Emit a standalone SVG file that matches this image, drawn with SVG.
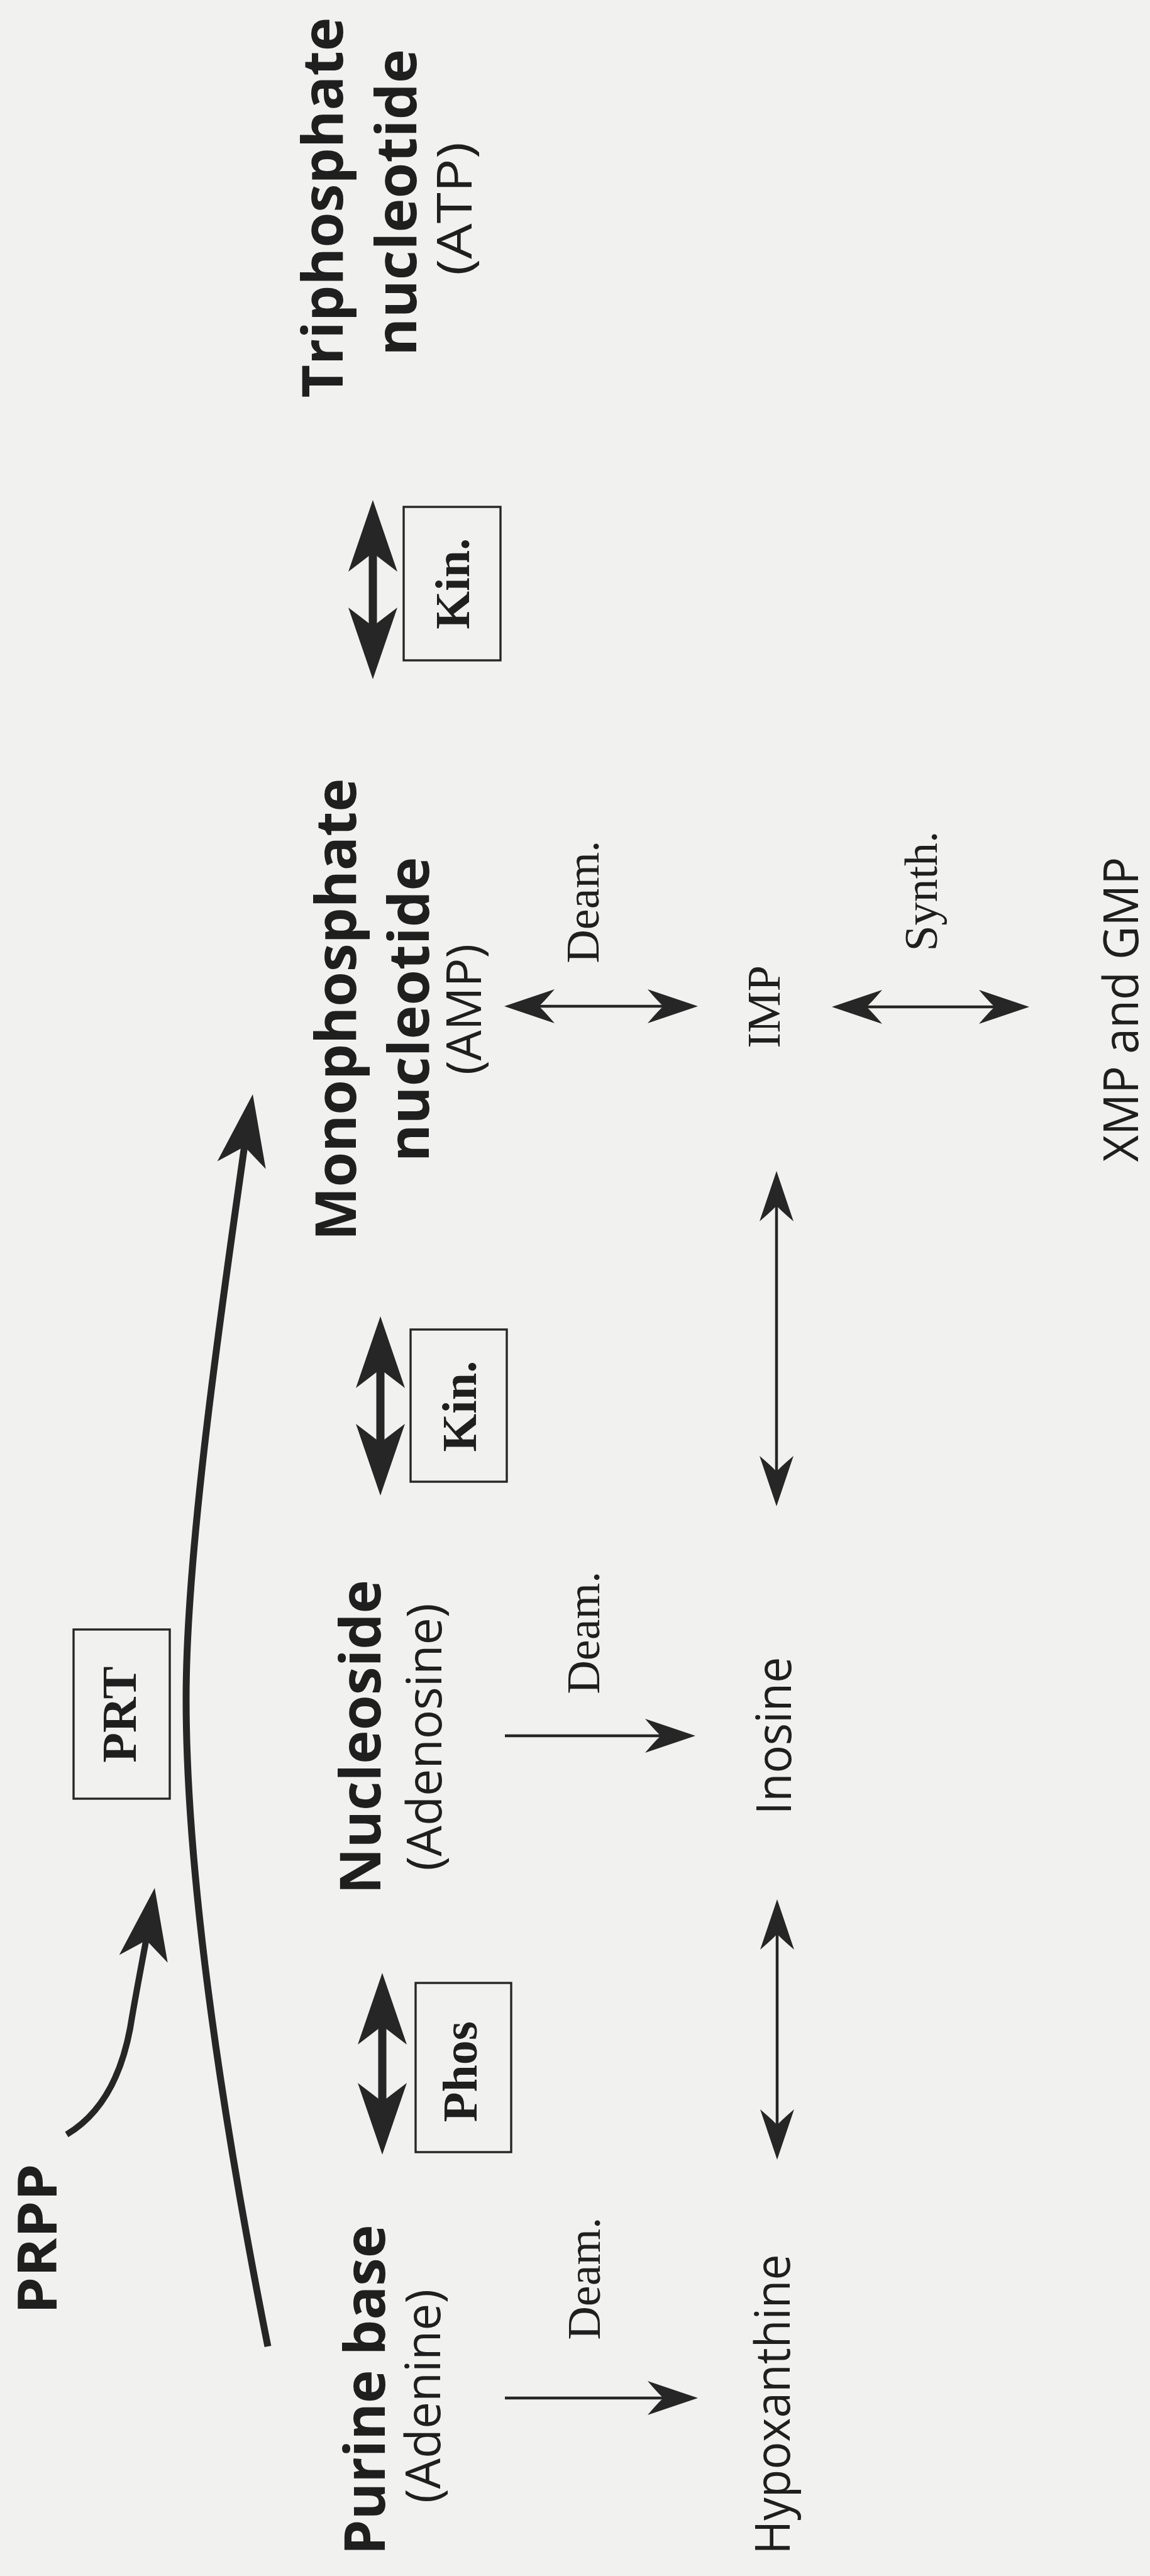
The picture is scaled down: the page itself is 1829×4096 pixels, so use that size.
<svg xmlns="http://www.w3.org/2000/svg" width="1829" height="4096" viewBox="0 0 1829 4096">
<style>
text{fill:#1f1f1f;text-anchor:middle}
.sb{font-family:"Open Sans","Liberation Sans",sans-serif;font-weight:700;font-size:90px}
.sr{font-family:"Open Sans","Liberation Sans",sans-serif;font-weight:400;font-size:76px}
.se{font-family:"Liberation Serif","DejaVu Serif",serif;font-weight:400;font-size:74px}
.seb{font-family:"Liberation Serif","DejaVu Serif",serif;font-weight:700;font-size:78px}
.box{fill:none;stroke:#262626;stroke-width:3.4}
.thin{fill:none;stroke:#262626;stroke-width:4.5}
.bold{fill:none;stroke:#262626;stroke-width:13}
.curve{fill:none;stroke:#262626;stroke-width:11;stroke-linecap:butt}
.head{fill:#262626}
</style>
<defs>
<path id="thinHead" class="head" d="M0,0 L-80,-27 Q-63,-7 -55,0 Q-63,7 -80,27 Z"/>
<path id="boldHead" class="head" d="M0,0 L-114,-39 Q-92,-10 -84,0 Q-92,10 -114,39 Z"/>
</defs>
<rect x="0" y="0" width="1829" height="4096" fill="#f1f1ef"/>

<g id="connectors">
  <!-- main PRT arc -->
  <path class="curve" d="M426,3731 C360,3400 296,3000 296,2700 C296,2450 360,2030 390,1814"/>
  <use href="#boldHead" transform="translate(402,1740) rotate(-81)"/>
  <!-- PRPP arrow -->
  <path class="curve" style="stroke-width:10" d="M106,3394 C160,3362 192,3305 207,3225 C216,3170 226,3120 234,3076"/>
  <use href="#boldHead" transform="translate(246,3002) rotate(-81)"/>
  <!-- bold double arrows -->
  <line class="bold" x1="593" y1="870" x2="593" y2="1005"/>
  <use href="#boldHead" transform="translate(593,795) rotate(-90)"/>
  <use href="#boldHead" transform="translate(593,1080) rotate(90)"/>
  <line class="bold" x1="605" y1="2168" x2="605" y2="2303"/>
  <use href="#boldHead" transform="translate(605,2093) rotate(-90)"/>
  <use href="#boldHead" transform="translate(605,2378) rotate(90)"/>
  <line class="bold" x1="608" y1="3212" x2="608" y2="3351"/>
  <use href="#boldHead" transform="translate(608,3137) rotate(-90)"/>
  <use href="#boldHead" transform="translate(608,3426) rotate(90)"/>
  <!-- thin horizontal double arrows -->
  <line class="thin" x1="855" y1="1600" x2="1057" y2="1600"/>
  <use href="#thinHead" transform="translate(802,1600) rotate(180)"/>
  <use href="#thinHead" transform="translate(1110,1600)"/>
  <line class="thin" x1="1376" y1="1601" x2="1584" y2="1601"/>
  <use href="#thinHead" transform="translate(1323,1601) rotate(180)"/>
  <use href="#thinHead" transform="translate(1637,1601)"/>
  <!-- thin vertical double arrows -->
  <line class="thin" x1="1235" y1="1915" x2="1235" y2="2342"/>
  <use href="#thinHead" transform="translate(1235,1862) rotate(-90)"/>
  <use href="#thinHead" transform="translate(1235,2395) rotate(90)"/>
  <line class="thin" x1="1236" y1="3073" x2="1236" y2="3381"/>
  <use href="#thinHead" transform="translate(1236,3020) rotate(-90)"/>
  <use href="#thinHead" transform="translate(1236,3434) rotate(90)"/>
  <!-- thin single arrows (Deam.) -->
  <line class="thin" x1="803" y1="2760" x2="1053" y2="2760"/>
  <use href="#thinHead" transform="translate(1106,2760)"/>
  <line class="thin" x1="803" y1="3813" x2="1057" y2="3813"/>
  <use href="#thinHead" transform="translate(1110,3813)"/>
</g>

<g id="triphosphate">
  <text class="sb" transform="translate(545,330) rotate(-90)" textLength="605" lengthAdjust="spacingAndGlyphs">Triphosphate</text>
  <text class="sb" transform="translate(662,322) rotate(-90)" textLength="488" lengthAdjust="spacingAndGlyphs">nucleotide</text>
  <text class="sr" transform="translate(750,332) rotate(-90)" textLength="212" lengthAdjust="spacingAndGlyphs">(ATP)</text>
</g>
<g id="kin-upper">
  <rect class="box" x="642" y="806" width="154" height="244"/>
  <text class="seb" transform="translate(746,928) rotate(-90)">Kin.</text>
</g>
<g id="monophosphate">
  <text class="sb" transform="translate(566,1605) rotate(-90)" textLength="735" lengthAdjust="spacingAndGlyphs">Monophosphate</text>
  <text class="sb" transform="translate(682,1605) rotate(-90)" textLength="485" lengthAdjust="spacingAndGlyphs">nucleotide</text>
  <text class="sr" transform="translate(765,1605) rotate(-90)" textLength="208" lengthAdjust="spacingAndGlyphs">(AMP)</text>
</g>
<g id="deam-amp">
  <text class="se" transform="translate(952,1434) rotate(-90)">Deam.</text>
</g>
<g id="imp">
  <text class="se" transform="translate(1240,1601) rotate(-90)">IMP</text>
</g>
<g id="synth">
  <text class="se" transform="translate(1490,1417) rotate(-90)">Synth.</text>
</g>
<g id="xmp-gmp">
  <text class="sr" transform="translate(1810,1605) rotate(-90)" textLength="485" lengthAdjust="spacingAndGlyphs">XMP and GMP</text>
</g>
<g id="kin-lower">
  <rect class="box" x="653" y="2114" width="153" height="242"/>
  <text class="seb" transform="translate(757,2236) rotate(-90)">Kin.</text>
</g>
<g id="prt">
  <rect class="box" x="117" y="2591" width="153" height="269"/>
  <text class="seb" transform="translate(216,2726) rotate(-90)">PRT</text>
</g>
<g id="nucleoside">
  <text class="sb" transform="translate(605,2762) rotate(-90)" textLength="500" lengthAdjust="spacingAndGlyphs">Nucleoside</text>
  <text class="sr" transform="translate(702,2762) rotate(-90)" textLength="425" lengthAdjust="spacingAndGlyphs">(Adenosine)</text>
</g>
<g id="deam-adenosine">
  <text class="se" transform="translate(953,2596) rotate(-90)">Deam.</text>
</g>
<g id="inosine">
  <text class="sr" transform="translate(1258,2760) rotate(-90)" textLength="251" lengthAdjust="spacingAndGlyphs">Inosine</text>
</g>
<g id="phos">
  <rect class="box" x="661" y="3153" width="152" height="269"/>
  <text class="seb" transform="translate(758,3294) rotate(-90)">Phos</text>
</g>
<g id="prpp">
  <text class="sb" style="font-size:86px" transform="translate(90,3560) rotate(-90)" textLength="239" lengthAdjust="spacingAndGlyphs">PRPP</text>
</g>
<g id="purine-base">
  <text class="sb" transform="translate(612,3800) rotate(-90)" textLength="525" lengthAdjust="spacingAndGlyphs">Purine base</text>
  <text class="sr" transform="translate(700,3810) rotate(-90)" textLength="340" lengthAdjust="spacingAndGlyphs">(Adenine)</text>
</g>
<g id="deam-adenine">
  <text class="se" transform="translate(954,3623) rotate(-90)">Deam.</text>
</g>
<g id="hypoxanthine">
  <text class="sr" transform="translate(1256,3823) rotate(-90)" textLength="477" lengthAdjust="spacingAndGlyphs">Hypoxanthine</text>
</g>
</svg>
